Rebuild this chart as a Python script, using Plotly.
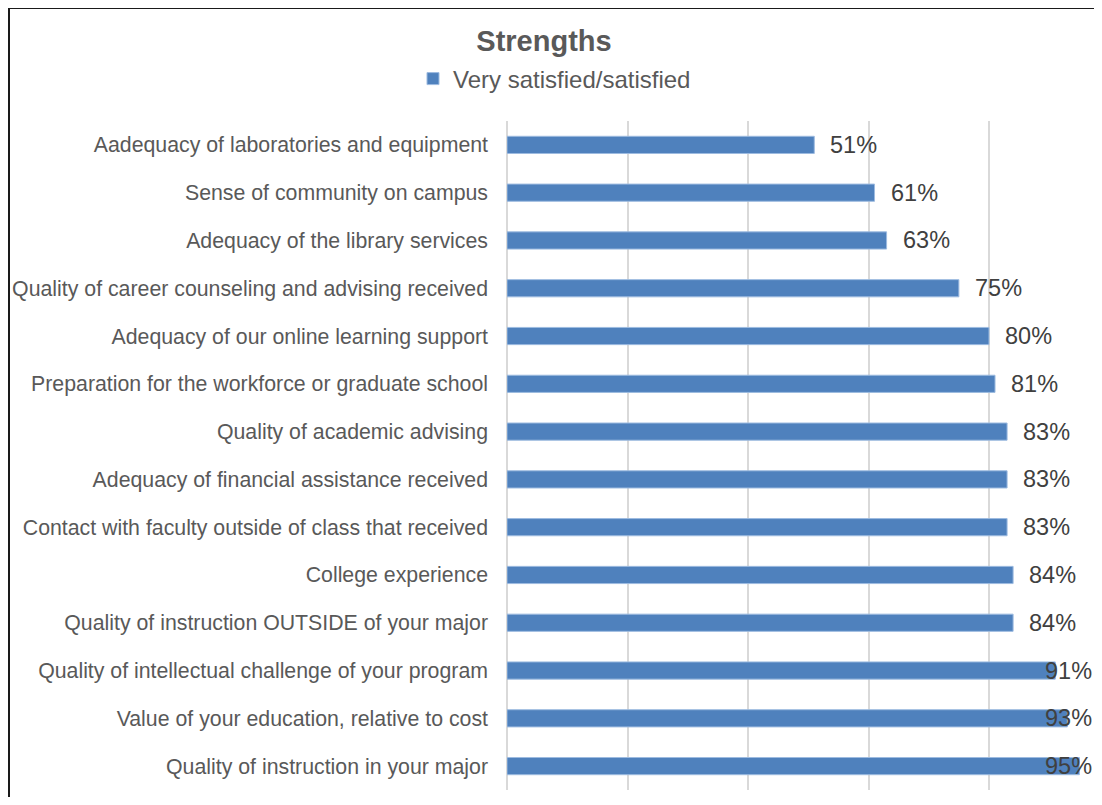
import plotly.graph_objects as go

categories = [
    "Aadequacy of laboratories and equipment",
    "Sense of community on campus",
    "Adequacy of the library services",
    "Quality of career counseling and advising received",
    "Adequacy of our online learning support",
    "Preparation for the workforce or graduate school",
    "Quality of academic advising",
    "Adequacy of financial assistance received",
    "Contact with faculty outside of class that received",
    "College experience",
    "Quality of instruction OUTSIDE of your major",
    "Quality of intellectual challenge of your program",
    "Value of your education, relative to cost",
    "Quality of instruction in your major",
]
values = [51, 61, 63, 75, 80, 81, 83, 83, 83, 84, 84, 91, 93, 95]
series_name = "Very satisfied/satisfied"
title_text = "Strengths"

BAR_COLOR = "#4F81BD"
FONT = "Liberation Sans, Arial, sans-serif"

# page body margin offset (browser default 8px)
OFF = 8
W, H = 1102 - 2 * OFF, 805 - 2 * OFF
L, R, T = 507 - OFF, 0, 121 - OFF
B = H - (790 - OFF)
pw, ph = W - L - R, H - T - B
PX_PER_UNIT = 6.025
X_MAX = pw / PX_PER_UNIT

fig = go.Figure()
fig.add_trace(go.Bar(
    x=values,
    y=categories,
    orientation="h",
    name=series_name,
    marker=dict(color=BAR_COLOR, line=dict(color="#9DBBE0", width=1)),
    width=0.36,
    showlegend=True,
))

# data labels (Excel-like: outside end, clamped to chart area)
gap_units = 2.6
label_units = 7.6
for c, v in zip(categories, values):
    if v + gap_units + label_units > X_MAX:
        fig.add_annotation(x=X_MAX, y=c, xref="x", yref="y", text=f"{v}%",
                           xanchor="right", yanchor="middle", showarrow=False,
                           font=dict(size=23.5, color="#404040", family=FONT))
    else:
        fig.add_annotation(x=v, y=c, xref="x", yref="y", text=f"{v}%",
                           xanchor="left", yanchor="middle", showarrow=False, xshift=14,
                           font=dict(size=23.5, color="#404040", family=FONT))

left_x = (1 - L) / pw
top_y = 1 + (T - 0) / ph
fig.add_shape(type="line", xref="paper", yref="paper", x0=left_x, x1=1.2, y0=top_y, y1=top_y,
              line=dict(color="#1a1a1a", width=2))
fig.add_shape(type="line", xref="paper", yref="paper", x0=left_x, x1=left_x, y0=-0.2, y1=top_y,
              line=dict(color="#1a1a1a", width=2))

fig.update_layout(
    width=W, height=H,
    margin=dict(l=L, r=R, t=T, b=B, autoexpand=False),
    paper_bgcolor="white", plot_bgcolor="white",
    font=dict(family=FONT, color="#595959"),
    title=dict(text=f"<b>{title_text}</b>", x=(544 - OFF) / W, xanchor="center",
               y=1 - (41 - OFF) / H, yanchor="middle", yref="container",
               font=dict(size=29, color="#595959", family=FONT)),
    legend=dict(orientation="h", x=(413 - OFF - L) / pw, xanchor="left",
                y=1 + (T - (79 - OFF)) / ph, yanchor="middle",
                font=dict(size=24, color="#595959", family=FONT),
                bgcolor="rgba(0,0,0,0)"),
    xaxis=dict(range=[0, X_MAX], dtick=20, showticklabels=False, showgrid=True,
               gridcolor="#D9D9D9", gridwidth=1.5, zeroline=True, zerolinecolor="#D9D9D9",
               zerolinewidth=1.5, showline=False, fixedrange=True),
    yaxis=dict(autorange="reversed", showgrid=False, ticks="", showline=False,
               ticklabelstandoff=18,
               tickfont=dict(size=21.3, color="#595959", family=FONT)),
    bargap=0.64,
)

fig.write_html("out.html")
